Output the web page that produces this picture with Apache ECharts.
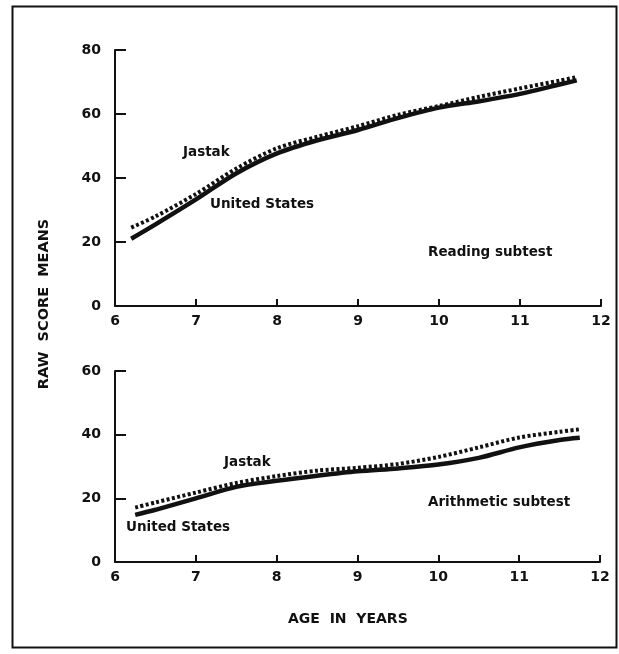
<!DOCTYPE html>
<html>
<head>
<meta charset="utf-8">
<script src="https://cdn.jsdelivr.net/npm/echarts@6/dist/echarts.min.js"></script>
<style>
  html, body { margin: 0; padding: 0; background: #fff; }
  #chart { width: 619px; height: 654px; }
</style>
</head>
<body>
<div id="chart"></div>
<script>
// Reading subtest: raw score means by age
const readingAges     = [6.2, 6.5, 7, 7.5, 8, 8.5, 9, 9.5, 10, 10.5, 11, 11.5, 11.7];
const readingUS       = [21, 25.5, 33.3, 41.5, 47.7, 51.8, 55, 58.8, 62, 64, 66.3, 69.3, 70.5];
const readingJastak   = [24.5, 28, 35, 43, 49.3, 52.9, 56.2, 59.8, 62.5, 65.4, 68, 70.5, 71.5];

// Arithmetic subtest: raw score means by age
const arithAges       = [6.25, 6.5, 7, 7.5, 8, 8.5, 9, 9.5, 10, 10.5, 11, 11.5, 11.75];
const arithUS         = [14.8, 16.4, 20, 23.6, 25.5, 27.1, 28.5, 29.4, 30.6, 32.7, 36, 38.3, 39];
const arithJastak     = [17.1, 18.7, 21.8, 24.8, 27, 28.7, 29.6, 30.8, 33, 36, 39.1, 40.9, 41.7];

// Axis ranges
const ageRange        = [6, 12];
const readingRange    = [0, 80];
const arithRange      = [0, 60];

const pair = (xs, ys) => xs.map((x, i) => [x, ys[i]]);

const FONT = 'DejaVu Sans';
const INK = '#111';

const labelStyle = {
  color: INK, fontFamily: FONT, fontWeight: 'bold', fontSize: 14
};

function xAxisFor(gridIndex) {
  return {
    type: 'value', gridIndex, min: ageRange[0], max: ageRange[1], interval: 1,
    axisLine: { show: true, lineStyle: { color: INK, width: 2 } },
    axisTick: { show: true, inside: true, length: 7, lineStyle: { color: INK, width: 2 } },
    axisLabel: Object.assign({ margin: 8 }, labelStyle),
    splitLine: { show: false }
  };
}
function yAxisFor(gridIndex, range) {
  return {
    type: 'value', gridIndex, min: range[0], max: range[1], interval: 20,
    axisLine: { show: true, lineStyle: { color: INK, width: 2 } },
    axisTick: { show: true, inside: true, length: 11, lineStyle: { color: INK, width: 2 } },
    axisLabel: Object.assign({ margin: 14 }, labelStyle),
    splitLine: { show: false }
  };
}

const solidStyle  = { color: INK, width: 4.5, type: 'solid', cap: 'butt' };
const dottedStyle = { color: INK, width: 4, type: [3, 2.4], cap: 'butt' };

function lineSeries(name, data, xi, style) {
  return {
    name, type: 'line', xAxisIndex: xi, yAxisIndex: xi,
    data, smooth: 0.3, showSymbol: false, symbol: 'none',
    lineStyle: style, silent: true, animation: false
  };
}

function note(text, x, y) {
  return {
    type: 'text', left: x, top: y,
    style: { text, fill: INK, font: 'bold 13.5px "' + FONT + '"' }
  };
}

const chart = echarts.init(document.getElementById('chart'), null, { renderer: 'canvas' });
chart.setOption({
  backgroundColor: '#fff',
  animation: false,
  grid: [
    { left: 115, top: 50, width: 486, height: 256 },
    { left: 115, top: 371, width: 485, height: 191 }
  ],
  xAxis: [xAxisFor(0), xAxisFor(1)],
  yAxis: [yAxisFor(0, readingRange), yAxisFor(1, arithRange)],
  series: [
    lineSeries('United States', pair(readingAges, readingUS), 0, solidStyle),
    lineSeries('Jastak', pair(readingAges, readingJastak), 0, dottedStyle),
    lineSeries('United States', pair(arithAges, arithUS), 1, solidStyle),
    lineSeries('Jastak', pair(arithAges, arithJastak), 1, dottedStyle)
  ],
  graphic: [
    {
      type: 'rect', shape: { x: 12.5, y: 6.5, width: 604, height: 641 },
      style: { fill: 'none', stroke: INK, lineWidth: 2 }, silent: true
    },
    note('Jastak', 183, 145),
    note('United States', 210, 197),
    note('Reading subtest', 428, 245),
    note('Jastak', 224, 455),
    note('United States', 126, 520),
    note('Arithmetic subtest', 428, 495),
    {
      type: 'text', left: 288, top: 612,
      style: { text: 'AGE  IN  YEARS', fill: INK, font: 'bold 14px "' + FONT + '"' }
    },
    {
      type: 'text', x: 44, y: 304, rotation: Math.PI / 2,
      style: {
        text: 'RAW  SCORE  MEANS', fill: INK, font: 'bold 14.5px "' + FONT + '"',
        textAlign: 'center', textVerticalAlign: 'middle'
      }
    }
  ]
});
</script>
</body>
</html>
